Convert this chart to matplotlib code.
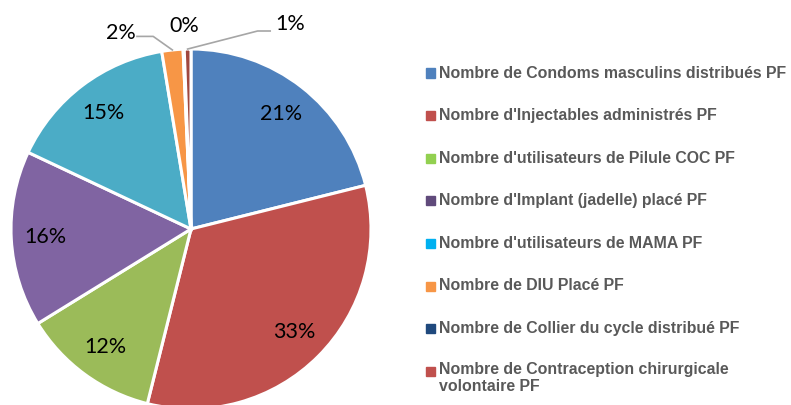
import matplotlib.pyplot as plt
import numpy as np
from matplotlib.patches import Rectangle

# Data (shares, %)
labels = ["Nombre de Condoms masculins distribués PF",
          "Nombre d'Injectables administrés PF",
          "Nombre d'utilisateurs de Pilule COC PF",
          "Nombre d'Implant (jadelle) placé PF",
          "Nombre d'utilisateurs de MAMA PF",
          "Nombre de DIU Placé PF",
          "Nombre de Collier du cycle distribué PF",
          "Nombre de Contraception chirurgicale\nvolontaire PF"]
shares = [21.1, 32.8, 12.3, 15.8, 15.4, 1.9, 0.1, 0.6]
pie_colors = ['#4F81BD', '#C0504D', '#9BBB59', '#8064A2', '#4BACC6', '#F79646', '#1F497D', '#A0473F']
legend_colors = ['#4F81BD', '#C0504D', '#92D050', '#604A7B', '#00B0F0', '#F79646', '#1F497D', '#C0504D']

W, H = 791, 405
fig = plt.figure(figsize=(W / 100, H / 100), dpi=100)

# pie axes: centre (191, 229) px, radius 180 px
cx, cy, r = 191, 229, 180
ax = fig.add_axes([(cx - r) / W, (H - cy - r) / H, 2 * r / W, 2 * r / H])
wedges, _ = ax.pie(shares, colors=pie_colors, startangle=90, counterclock=False,
                   radius=1, wedgeprops=dict(edgecolor='white', linewidth=2.2))
ax.set_xlim(-1, 1)
ax.set_ylim(-1, 1)
ax.set_aspect('equal')
ax.axis('off')

lab_font = dict(fontsize=15.5, family='Lato', color='#000000')
# small slices get labels outside the pie
outside = {5: (-0.39, 1.09), 6: (-0.04, 1.13), 7: (0.55, 1.14)}
for i, w in enumerate(wedges):
    mid = np.deg2rad((w.theta1 + w.theta2) / 2)
    txt = f"{shares[i]:.0f}%"
    if i in outside:
        tx, ty = outside[i]
        ax.text(tx, ty, txt, ha='center', va='center', clip_on=False, **lab_font)
    else:
        d = 0.81
        ax.text(d * np.cos(mid), d * np.sin(mid), txt, ha='center', va='center', **lab_font)

# leader lines for 2% and 1%
for i, (x0, y0, xb) in {5: (-0.30, 1.07, -0.21), 7: (0.44, 1.10, 0.37)}.items():
    w = wedges[i]
    mid = np.deg2rad((w.theta1 + w.theta2) / 2)
    ex, ey = np.cos(mid), np.sin(mid)
    ax.plot([x0, xb, ex], [y0, y0, ey], color='#A6A6A6', lw=1.2, clip_on=False)

# legend drawn by hand
row0, step = 73, 42.6
for i, (lab, col) in enumerate(zip(labels, legend_colors)):
    y = row0 + i * step
    fig.patches.append(Rectangle((426 / W, (H - y - 4.5) / H), 9 / W, 9 / H,
                                 transform=fig.transFigure, color=col))
    multi = '\n' in lab
    fig.text(439 / W, (H - y + (9 if multi else 0)) / H, lab, ha='left',
             va='top' if multi else 'center',
             fontsize=11.4, family='Liberation Sans', fontweight='bold', color='#595959',
             linespacing=1.15)

fig.savefig('out.png', dpi=100)
